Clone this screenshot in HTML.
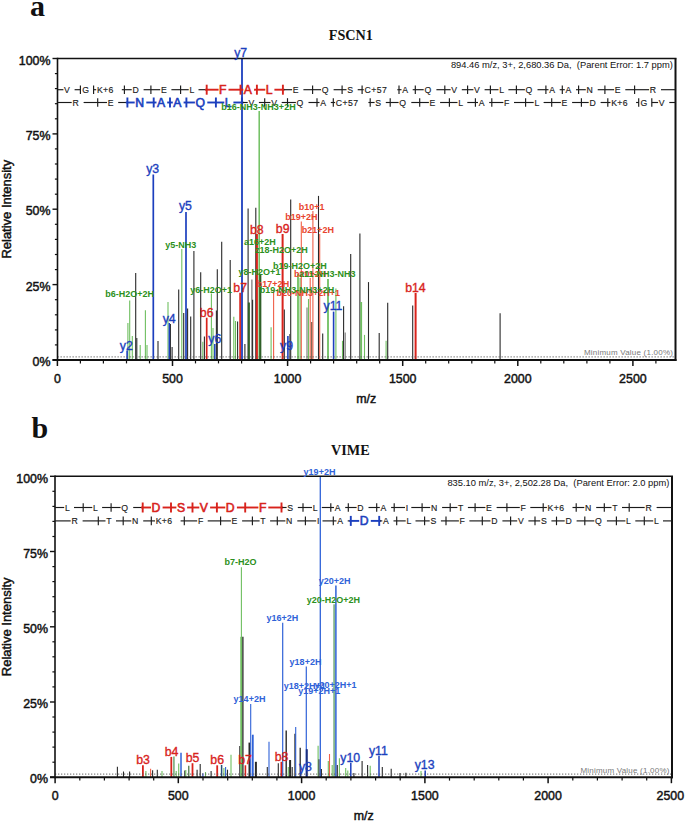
<!DOCTYPE html>
<html><head><meta charset="utf-8"><title>MS/MS spectra</title>
<style>
html,body{margin:0;padding:0;background:#fff}
svg{display:block}
text{font-family:"Liberation Sans",sans-serif}
.ax{font-size:12.4px;fill:#111;stroke:#111;stroke-width:.45px}
.sm{font-size:9px;font-weight:bold}
.ttl{font-family:"Liberation Serif",serif;font-weight:bold;font-size:14.2px}
.ltr{font-family:"Liberation Serif",serif;font-weight:bold;font-size:30px}
.bg{font-size:12.3px;stroke-width:.35px}
</style></head><body>
<svg width="685" height="821" viewBox="0 0 685 821">
<rect width="685" height="821" fill="#fff"/>
<g>
<line x1="127.9" y1="323.0" x2="127.9" y2="360.0" stroke="#6fbf60" stroke-width="1.1"/>
<line x1="129.7" y1="300.6" x2="129.7" y2="360.0" stroke="#6fbf60" stroke-width="1.1"/>
<line x1="132.3" y1="336.0" x2="132.3" y2="360.0" stroke="#6fbf60" stroke-width="1.1"/>
<line x1="135.7" y1="273.1" x2="135.7" y2="360.0" stroke="#2a2a2a" stroke-width="1.1"/>
<line x1="136.8" y1="338.0" x2="136.8" y2="360.0" stroke="#2a2a2a" stroke-width="1.1"/>
<line x1="140.2" y1="345.0" x2="140.2" y2="360.0" stroke="#6fbf60" stroke-width="1.1"/>
<line x1="145.4" y1="310.3" x2="145.4" y2="360.0" stroke="#6fbf60" stroke-width="1.1"/>
<line x1="147.0" y1="345.0" x2="147.0" y2="360.0" stroke="#6fbf60" stroke-width="1.1"/>
<line x1="158.0" y1="341.0" x2="158.0" y2="360.0" stroke="#2a2a2a" stroke-width="1.1"/>
<line x1="168.0" y1="302.0" x2="168.0" y2="360.0" stroke="#6fbf60" stroke-width="1.1"/>
<line x1="170.4" y1="324.0" x2="170.4" y2="360.0" stroke="#2a2a2a" stroke-width="1.1"/>
<line x1="172.1" y1="347.0" x2="172.1" y2="360.0" stroke="#2a2a2a" stroke-width="1.1"/>
<line x1="178.7" y1="289.6" x2="178.7" y2="360.0" stroke="#2a2a2a" stroke-width="1.1"/>
<line x1="181.8" y1="249.0" x2="181.8" y2="360.0" stroke="#6fbf60" stroke-width="1.1"/>
<line x1="183.7" y1="313.0" x2="183.7" y2="360.0" stroke="#2a2a2a" stroke-width="1.1"/>
<line x1="187.6" y1="308.5" x2="187.6" y2="360.0" stroke="#2a2a2a" stroke-width="1.1"/>
<line x1="190.7" y1="316.4" x2="190.7" y2="360.0" stroke="#2a2a2a" stroke-width="1.1"/>
<line x1="193.9" y1="250.9" x2="193.9" y2="360.0" stroke="#2a2a2a" stroke-width="1.1"/>
<line x1="200.7" y1="272.3" x2="200.7" y2="360.0" stroke="#2a2a2a" stroke-width="1.1"/>
<line x1="202.8" y1="341.8" x2="202.8" y2="360.0" stroke="#6fbf60" stroke-width="1.1"/>
<line x1="204.4" y1="336.5" x2="204.4" y2="360.0" stroke="#2a2a2a" stroke-width="1.1"/>
<line x1="211.4" y1="293.6" x2="211.4" y2="360.0" stroke="#6fbf60" stroke-width="1.1"/>
<line x1="213.0" y1="328.0" x2="213.0" y2="360.0" stroke="#6fbf60" stroke-width="1.1"/>
<line x1="216.4" y1="310.6" x2="216.4" y2="360.0" stroke="#2a2a2a" stroke-width="1.1"/>
<line x1="217.3" y1="269.2" x2="217.3" y2="360.0" stroke="#2a2a2a" stroke-width="1.1"/>
<line x1="221.7" y1="241.7" x2="221.7" y2="360.0" stroke="#2a2a2a" stroke-width="1.1"/>
<line x1="230.2" y1="260.0" x2="230.2" y2="360.0" stroke="#2a2a2a" stroke-width="1.1"/>
<line x1="233.8" y1="316.8" x2="233.8" y2="360.0" stroke="#6fbf60" stroke-width="1.1"/>
<line x1="235.5" y1="321.0" x2="235.5" y2="360.0" stroke="#6fbf60" stroke-width="1.1"/>
<line x1="237.6" y1="321.6" x2="237.6" y2="360.0" stroke="#2a2a2a" stroke-width="1.1"/>
<line x1="244.9" y1="344.0" x2="244.9" y2="360.0" stroke="#2a2a2a" stroke-width="1.1"/>
<line x1="248.1" y1="208.4" x2="248.1" y2="360.0" stroke="#2a2a2a" stroke-width="1.1"/>
<line x1="248.9" y1="302.5" x2="248.9" y2="360.0" stroke="#2f5f28" stroke-width="2"/>
<line x1="251.9" y1="279.5" x2="251.9" y2="360.0" stroke="#666" stroke-width="1.1"/>
<line x1="252.6" y1="299.7" x2="252.6" y2="360.0" stroke="#2a2a2a" stroke-width="1.1"/>
<line x1="255.8" y1="207.8" x2="255.8" y2="360.0" stroke="#2a2a2a" stroke-width="1.1"/>
<line x1="259.2" y1="111.0" x2="259.2" y2="360.0" stroke="#6fbf60" stroke-width="1.5"/>
<line x1="260.3" y1="275.0" x2="260.3" y2="360.0" stroke="#2f5f28" stroke-width="2.1"/>
<line x1="271.1" y1="327.3" x2="271.1" y2="360.0" stroke="#6fbf60" stroke-width="1.1"/>
<line x1="273.6" y1="290.0" x2="273.6" y2="360.0" stroke="#f0604a" stroke-width="1.1"/>
<line x1="284.3" y1="309.5" x2="284.3" y2="360.0" stroke="#2a2a2a" stroke-width="1.1"/>
<line x1="289.6" y1="334.0" x2="289.6" y2="360.0" stroke="#777" stroke-width="1.1"/>
<line x1="290.7" y1="199.4" x2="290.7" y2="360.0" stroke="#2a2a2a" stroke-width="1.1"/>
<line x1="298.0" y1="273.8" x2="298.0" y2="360.0" stroke="#6fbf60" stroke-width="1.8"/>
<line x1="300.1" y1="278.0" x2="300.1" y2="360.0" stroke="#6fbf60" stroke-width="1.1"/>
<line x1="301.3" y1="221.4" x2="301.3" y2="360.0" stroke="#f0604a" stroke-width="1.1"/>
<line x1="307.0" y1="307.4" x2="307.0" y2="360.0" stroke="#777" stroke-width="1.1"/>
<line x1="308.5" y1="299.0" x2="308.5" y2="360.0" stroke="#6fbf60" stroke-width="1.1"/>
<line x1="310.2" y1="278.0" x2="310.2" y2="360.0" stroke="#f0604a" stroke-width="1.1"/>
<line x1="311.8" y1="322.0" x2="311.8" y2="360.0" stroke="#5a3a20" stroke-width="1.1"/>
<line x1="312.9" y1="211.0" x2="312.9" y2="360.0" stroke="#f0604a" stroke-width="1.1"/>
<line x1="318.5" y1="195.9" x2="318.5" y2="360.0" stroke="#2a2a2a" stroke-width="1.1"/>
<line x1="319.7" y1="234.0" x2="319.7" y2="360.0" stroke="#f0604a" stroke-width="1.1"/>
<line x1="322.7" y1="333.6" x2="322.7" y2="360.0" stroke="#2a2a2a" stroke-width="1.1"/>
<line x1="328.0" y1="279.1" x2="328.0" y2="360.0" stroke="#6fbf60" stroke-width="1.8"/>
<line x1="335.9" y1="288.5" x2="335.9" y2="360.0" stroke="#6fbf60" stroke-width="1.1"/>
<line x1="342.5" y1="340.8" x2="342.5" y2="360.0" stroke="#6fbf60" stroke-width="1.1"/>
<line x1="343.6" y1="306.2" x2="343.6" y2="360.0" stroke="#2a2a2a" stroke-width="1.1"/>
<line x1="345.2" y1="332.4" x2="345.2" y2="360.0" stroke="#777" stroke-width="1.1"/>
<line x1="350.7" y1="253.9" x2="350.7" y2="360.0" stroke="#2a2a2a" stroke-width="1.1"/>
<line x1="359.9" y1="233.4" x2="359.9" y2="360.0" stroke="#2a2a2a" stroke-width="1.1"/>
<line x1="361.2" y1="302.0" x2="361.2" y2="360.0" stroke="#6fbf60" stroke-width="1.8"/>
<line x1="364.5" y1="334.9" x2="364.5" y2="360.0" stroke="#6fbf60" stroke-width="1.1"/>
<line x1="368.5" y1="282.1" x2="368.5" y2="360.0" stroke="#2a2a2a" stroke-width="1.1"/>
<line x1="379.2" y1="333.0" x2="379.2" y2="360.0" stroke="#2a2a2a" stroke-width="1.1"/>
<line x1="386.1" y1="340.8" x2="386.1" y2="360.0" stroke="#6fbf60" stroke-width="1.1"/>
<line x1="387.7" y1="302.7" x2="387.7" y2="360.0" stroke="#2a2a2a" stroke-width="1.1"/>
<line x1="412.7" y1="305.6" x2="412.7" y2="360.0" stroke="#2a2a2a" stroke-width="1.1"/>
<line x1="500.1" y1="313.3" x2="500.1" y2="360.0" stroke="#2a2a2a" stroke-width="1.1"/>
<line x1="127.1" y1="350.4" x2="127.1" y2="360.0" stroke="#1c3fbe" stroke-width="1.6"/>
<line x1="153.3" y1="174.5" x2="153.3" y2="360.0" stroke="#1c3fbe" stroke-width="1.7"/>
<line x1="169.3" y1="323.0" x2="169.3" y2="360.0" stroke="#1c3fbe" stroke-width="1.5"/>
<line x1="186.0" y1="212.1" x2="186.0" y2="360.0" stroke="#1c3fbe" stroke-width="1.7"/>
<line x1="214.8" y1="343.9" x2="214.8" y2="360.0" stroke="#1c3fbe" stroke-width="1.5"/>
<line x1="287.9" y1="336.0" x2="287.9" y2="360.0" stroke="#1c3fbe" stroke-width="1.6"/>
<line x1="333.6" y1="311.6" x2="333.6" y2="360.0" stroke="#1c3fbe" stroke-width="1.6"/>
<line x1="206.7" y1="317.7" x2="206.7" y2="360.0" stroke="#d8231c" stroke-width="1.7"/>
<line x1="240.1" y1="292.7" x2="240.1" y2="360.0" stroke="#d8231c" stroke-width="1.7"/>
<line x1="256.9" y1="234.0" x2="256.9" y2="360.0" stroke="#d8231c" stroke-width="2"/>
<line x1="282.6" y1="234.0" x2="282.6" y2="360.0" stroke="#d8231c" stroke-width="2"/>
<line x1="415.6" y1="293.0" x2="415.6" y2="360.0" stroke="#d8231c" stroke-width="2"/>
<line x1="242.0" y1="58.5" x2="242.0" y2="360.0" stroke="#1c3fbe" stroke-width="1.8"/>
<line x1="57.5" y1="356.9" x2="675.5" y2="356.9" stroke="#555" stroke-width="0.9" stroke-dasharray="1.3 1.7"/>
<text x="672.9" y="355.3" font-size="8" fill="#7a7a7a" text-anchor="end" textLength="89" lengthAdjust="spacing">Minimum Value (1.00%)</text>
<line x1="57.5" y1="58.5" x2="676.5" y2="58.5" stroke="#111" stroke-width="1.5"/>
<line x1="675.5" y1="58.5" x2="675.5" y2="361" stroke="#111" stroke-width="2"/>
<line x1="57.5" y1="57.8" x2="57.5" y2="361" stroke="#111" stroke-width="1.6"/>
<line x1="52.5" y1="360" x2="676.5" y2="360" stroke="#111" stroke-width="2"/>
<line x1="52.5" y1="360.0" x2="57.5" y2="360.0" stroke="#111" stroke-width="1.4"/>
<text class="ax" x="50.5" y="366.2" text-anchor="end">0%</text>
<line x1="54.9" y1="344.9" x2="57.5" y2="344.9" stroke="#111" stroke-width="1.2"/>
<line x1="54.9" y1="329.9" x2="57.5" y2="329.9" stroke="#111" stroke-width="1.2"/>
<line x1="54.9" y1="314.8" x2="57.5" y2="314.8" stroke="#111" stroke-width="1.2"/>
<line x1="54.9" y1="299.7" x2="57.5" y2="299.7" stroke="#111" stroke-width="1.2"/>
<line x1="52.5" y1="284.6" x2="57.5" y2="284.6" stroke="#111" stroke-width="1.4"/>
<text class="ax" x="50.5" y="290.8" text-anchor="end">25%</text>
<line x1="54.9" y1="269.6" x2="57.5" y2="269.6" stroke="#111" stroke-width="1.2"/>
<line x1="54.9" y1="254.5" x2="57.5" y2="254.5" stroke="#111" stroke-width="1.2"/>
<line x1="54.9" y1="239.4" x2="57.5" y2="239.4" stroke="#111" stroke-width="1.2"/>
<line x1="54.9" y1="224.3" x2="57.5" y2="224.3" stroke="#111" stroke-width="1.2"/>
<line x1="52.5" y1="209.2" x2="57.5" y2="209.2" stroke="#111" stroke-width="1.4"/>
<text class="ax" x="50.5" y="215.4" text-anchor="end">50%</text>
<line x1="54.9" y1="194.2" x2="57.5" y2="194.2" stroke="#111" stroke-width="1.2"/>
<line x1="54.9" y1="179.1" x2="57.5" y2="179.1" stroke="#111" stroke-width="1.2"/>
<line x1="54.9" y1="164.0" x2="57.5" y2="164.0" stroke="#111" stroke-width="1.2"/>
<line x1="54.9" y1="148.9" x2="57.5" y2="148.9" stroke="#111" stroke-width="1.2"/>
<line x1="52.5" y1="133.9" x2="57.5" y2="133.9" stroke="#111" stroke-width="1.4"/>
<text class="ax" x="50.5" y="140.1" text-anchor="end">75%</text>
<line x1="54.9" y1="118.8" x2="57.5" y2="118.8" stroke="#111" stroke-width="1.2"/>
<line x1="54.9" y1="103.7" x2="57.5" y2="103.7" stroke="#111" stroke-width="1.2"/>
<line x1="54.9" y1="88.6" x2="57.5" y2="88.6" stroke="#111" stroke-width="1.2"/>
<line x1="54.9" y1="73.6" x2="57.5" y2="73.6" stroke="#111" stroke-width="1.2"/>
<line x1="52.5" y1="58.5" x2="57.5" y2="58.5" stroke="#111" stroke-width="1.4"/>
<text class="ax" x="50.5" y="64.7" text-anchor="end">100%</text>
<line x1="57.4" y1="360" x2="57.4" y2="366" stroke="#111" stroke-width="1.5"/>
<text class="ax" x="57.4" y="383.2" text-anchor="middle">0</text>
<line x1="80.4" y1="360" x2="80.4" y2="363.4" stroke="#111" stroke-width="1.2"/>
<line x1="103.4" y1="360" x2="103.4" y2="363.4" stroke="#111" stroke-width="1.2"/>
<line x1="126.5" y1="360" x2="126.5" y2="363.4" stroke="#111" stroke-width="1.2"/>
<line x1="149.5" y1="360" x2="149.5" y2="363.4" stroke="#111" stroke-width="1.2"/>
<line x1="172.5" y1="360" x2="172.5" y2="366" stroke="#111" stroke-width="1.5"/>
<text class="ax" x="172.5" y="383.2" text-anchor="middle">500</text>
<line x1="195.5" y1="360" x2="195.5" y2="363.4" stroke="#111" stroke-width="1.2"/>
<line x1="218.5" y1="360" x2="218.5" y2="363.4" stroke="#111" stroke-width="1.2"/>
<line x1="241.6" y1="360" x2="241.6" y2="363.4" stroke="#111" stroke-width="1.2"/>
<line x1="264.6" y1="360" x2="264.6" y2="363.4" stroke="#111" stroke-width="1.2"/>
<line x1="287.6" y1="360" x2="287.6" y2="366" stroke="#111" stroke-width="1.5"/>
<text class="ax" x="287.6" y="383.2" text-anchor="middle">1000</text>
<line x1="310.6" y1="360" x2="310.6" y2="363.4" stroke="#111" stroke-width="1.2"/>
<line x1="333.6" y1="360" x2="333.6" y2="363.4" stroke="#111" stroke-width="1.2"/>
<line x1="356.7" y1="360" x2="356.7" y2="363.4" stroke="#111" stroke-width="1.2"/>
<line x1="379.7" y1="360" x2="379.7" y2="363.4" stroke="#111" stroke-width="1.2"/>
<line x1="402.7" y1="360" x2="402.7" y2="366" stroke="#111" stroke-width="1.5"/>
<text class="ax" x="402.7" y="383.2" text-anchor="middle">1500</text>
<line x1="425.7" y1="360" x2="425.7" y2="363.4" stroke="#111" stroke-width="1.2"/>
<line x1="448.7" y1="360" x2="448.7" y2="363.4" stroke="#111" stroke-width="1.2"/>
<line x1="471.8" y1="360" x2="471.8" y2="363.4" stroke="#111" stroke-width="1.2"/>
<line x1="494.8" y1="360" x2="494.8" y2="363.4" stroke="#111" stroke-width="1.2"/>
<line x1="517.8" y1="360" x2="517.8" y2="366" stroke="#111" stroke-width="1.5"/>
<text class="ax" x="517.8" y="383.2" text-anchor="middle">2000</text>
<line x1="540.8" y1="360" x2="540.8" y2="363.4" stroke="#111" stroke-width="1.2"/>
<line x1="563.8" y1="360" x2="563.8" y2="363.4" stroke="#111" stroke-width="1.2"/>
<line x1="586.9" y1="360" x2="586.9" y2="363.4" stroke="#111" stroke-width="1.2"/>
<line x1="609.9" y1="360" x2="609.9" y2="363.4" stroke="#111" stroke-width="1.2"/>
<line x1="632.9" y1="360" x2="632.9" y2="366" stroke="#111" stroke-width="1.5"/>
<text class="ax" x="632.9" y="383.2" text-anchor="middle">2500</text>
<line x1="655.9" y1="360" x2="655.9" y2="363.4" stroke="#111" stroke-width="1.2"/>
<text class="ax" x="366.2" y="402.8" text-anchor="middle">m/z</text>
<text class="ax" transform="translate(11.3,209.2) rotate(-90)" text-anchor="middle" textLength="98.8" lengthAdjust="spacingAndGlyphs">Relative Intensity</text>
<text x="672.9" y="68.1" font-size="8.6" fill="#111" text-anchor="end" textLength="222" lengthAdjust="spacingAndGlyphs" style="white-space:pre">894.46 m/z, 3+, 2,680.36 Da,  (Parent Error: 1.7 ppm)</text>
<text x="350.8" y="39.7" class="ttl" fill="#111" text-anchor="middle">FSCN1</text>
<text x="30" y="15.6" class="ltr" fill="#111">a</text>
<line x1="57.5" y1="89.7" x2="63.4" y2="89.7" stroke="#1a1a1a" stroke-width="1.15"/>
<line x1="74.6" y1="89.7" x2="80.4" y2="89.7" stroke="#1a1a1a" stroke-width="1.15"/>
<text x="64.1" y="92.8" font-size="8.7" fill="#1a1a1a" stroke="#1a1a1a" stroke-width=".15">V</text>
<text x="82.3" y="92.8" font-size="8.7" fill="#1a1a1a" stroke="#1a1a1a" stroke-width=".15">G</text>
<line x1="93.6" y1="89.7" x2="96.2" y2="89.7" stroke="#1a1a1a" stroke-width="1.15"/>
<line x1="121.8" y1="89.7" x2="124.4" y2="89.7" stroke="#1a1a1a" stroke-width="1.15"/>
<text x="96.9" y="92.8" font-size="8.7" fill="#1a1a1a" stroke="#1a1a1a" stroke-width=".15" textLength="16.4">K+6</text>
<line x1="124.4" y1="89.7" x2="131.7" y2="89.7" stroke="#1a1a1a" stroke-width="1.15"/>
<line x1="143.6" y1="89.7" x2="150.9" y2="89.7" stroke="#1a1a1a" stroke-width="1.15"/>
<text x="132.4" y="92.8" font-size="8.7" fill="#1a1a1a" stroke="#1a1a1a" stroke-width=".15">D</text>
<line x1="150.9" y1="89.7" x2="160.2" y2="89.7" stroke="#1a1a1a" stroke-width="1.15"/>
<line x1="171.4" y1="89.7" x2="180.6" y2="89.7" stroke="#1a1a1a" stroke-width="1.15"/>
<text x="160.9" y="92.8" font-size="8.7" fill="#1a1a1a" stroke="#1a1a1a" stroke-width=".15">E</text>
<line x1="180.6" y1="89.7" x2="188.7" y2="89.7" stroke="#1a1a1a" stroke-width="1.15"/>
<line x1="198.5" y1="89.7" x2="206.7" y2="89.7" stroke="#1a1a1a" stroke-width="1.15"/>
<text x="189.4" y="92.8" font-size="8.7" fill="#1a1a1a" stroke="#1a1a1a" stroke-width=".15">L</text>
<line x1="205.1" y1="89.7" x2="218.6" y2="89.7" stroke="#d8231c" stroke-width="1.9"/>
<line x1="228.5" y1="89.7" x2="240.5" y2="89.7" stroke="#d8231c" stroke-width="1.9"/>
<text x="219.1" y="94.1" font-size="12.2" fill="#d8231c" stroke="#d8231c" stroke-width=".6">F</text>
<line x1="240.5" y1="89.7" x2="243.3" y2="89.7" stroke="#d8231c" stroke-width="1.9"/>
<line x1="254.1" y1="89.7" x2="256.9" y2="89.7" stroke="#d8231c" stroke-width="1.9"/>
<text x="243.8" y="94.1" font-size="12.2" fill="#d8231c" stroke="#d8231c" stroke-width=".6">A</text>
<line x1="256.9" y1="89.7" x2="265.3" y2="89.7" stroke="#d8231c" stroke-width="1.9"/>
<line x1="274.4" y1="89.7" x2="284.5" y2="89.7" stroke="#d8231c" stroke-width="1.9"/>
<text x="265.8" y="94.1" font-size="12.2" fill="#d8231c" stroke="#d8231c" stroke-width=".6">L</text>
<line x1="282.9" y1="89.7" x2="292.1" y2="89.7" stroke="#1a1a1a" stroke-width="1.15"/>
<line x1="303.4" y1="89.7" x2="312.6" y2="89.7" stroke="#1a1a1a" stroke-width="1.15"/>
<text x="292.8" y="92.8" font-size="8.7" fill="#1a1a1a" stroke="#1a1a1a" stroke-width=".15">E</text>
<line x1="312.6" y1="89.7" x2="321.0" y2="89.7" stroke="#1a1a1a" stroke-width="1.15"/>
<line x1="333.6" y1="89.7" x2="342.1" y2="89.7" stroke="#1a1a1a" stroke-width="1.15"/>
<text x="321.7" y="92.8" font-size="8.7" fill="#1a1a1a" stroke="#1a1a1a" stroke-width=".15">Q</text>
<line x1="342.1" y1="89.7" x2="346.5" y2="89.7" stroke="#1a1a1a" stroke-width="1.15"/>
<line x1="357.7" y1="89.7" x2="362.1" y2="89.7" stroke="#1a1a1a" stroke-width="1.15"/>
<text x="347.2" y="92.8" font-size="8.7" fill="#1a1a1a" stroke="#1a1a1a" stroke-width=".15">S</text>
<line x1="362.1" y1="89.7" x2="363.9" y2="89.7" stroke="#1a1a1a" stroke-width="1.15"/>
<line x1="397.2" y1="89.7" x2="399.0" y2="89.7" stroke="#1a1a1a" stroke-width="1.15"/>
<text x="364.6" y="92.8" font-size="8.7" fill="#1a1a1a" stroke="#1a1a1a" stroke-width=".15" textLength="22.3">C+57</text>
<line x1="399.0" y1="89.7" x2="401.5" y2="89.7" stroke="#1a1a1a" stroke-width="1.15"/>
<line x1="412.7" y1="89.7" x2="415.3" y2="89.7" stroke="#1a1a1a" stroke-width="1.15"/>
<text x="402.2" y="92.8" font-size="8.7" fill="#1a1a1a" stroke="#1a1a1a" stroke-width=".15">A</text>
<line x1="415.3" y1="89.7" x2="423.7" y2="89.7" stroke="#1a1a1a" stroke-width="1.15"/>
<line x1="436.4" y1="89.7" x2="444.8" y2="89.7" stroke="#1a1a1a" stroke-width="1.15"/>
<text x="424.4" y="92.8" font-size="8.7" fill="#1a1a1a" stroke="#1a1a1a" stroke-width=".15">Q</text>
<line x1="444.8" y1="89.7" x2="450.6" y2="89.7" stroke="#1a1a1a" stroke-width="1.15"/>
<line x1="461.8" y1="89.7" x2="467.6" y2="89.7" stroke="#1a1a1a" stroke-width="1.15"/>
<text x="451.3" y="92.8" font-size="8.7" fill="#1a1a1a" stroke="#1a1a1a" stroke-width=".15">V</text>
<line x1="467.6" y1="89.7" x2="473.4" y2="89.7" stroke="#1a1a1a" stroke-width="1.15"/>
<line x1="484.6" y1="89.7" x2="490.4" y2="89.7" stroke="#1a1a1a" stroke-width="1.15"/>
<text x="474.1" y="92.8" font-size="8.7" fill="#1a1a1a" stroke="#1a1a1a" stroke-width=".15">V</text>
<line x1="490.4" y1="89.7" x2="498.5" y2="89.7" stroke="#1a1a1a" stroke-width="1.15"/>
<line x1="508.3" y1="89.7" x2="516.4" y2="89.7" stroke="#1a1a1a" stroke-width="1.15"/>
<text x="499.2" y="92.8" font-size="8.7" fill="#1a1a1a" stroke="#1a1a1a" stroke-width=".15">L</text>
<line x1="516.4" y1="89.7" x2="524.9" y2="89.7" stroke="#1a1a1a" stroke-width="1.15"/>
<line x1="537.5" y1="89.7" x2="545.9" y2="89.7" stroke="#1a1a1a" stroke-width="1.15"/>
<text x="525.6" y="92.8" font-size="8.7" fill="#1a1a1a" stroke="#1a1a1a" stroke-width=".15">Q</text>
<line x1="545.9" y1="89.7" x2="548.5" y2="89.7" stroke="#1a1a1a" stroke-width="1.15"/>
<line x1="559.7" y1="89.7" x2="562.3" y2="89.7" stroke="#1a1a1a" stroke-width="1.15"/>
<text x="549.2" y="92.8" font-size="8.7" fill="#1a1a1a" stroke="#1a1a1a" stroke-width=".15">A</text>
<line x1="562.3" y1="89.7" x2="564.8" y2="89.7" stroke="#1a1a1a" stroke-width="1.15"/>
<line x1="576.0" y1="89.7" x2="578.6" y2="89.7" stroke="#1a1a1a" stroke-width="1.15"/>
<text x="565.5" y="92.8" font-size="8.7" fill="#1a1a1a" stroke="#1a1a1a" stroke-width=".15">A</text>
<line x1="578.6" y1="89.7" x2="585.8" y2="89.7" stroke="#1a1a1a" stroke-width="1.15"/>
<line x1="597.7" y1="89.7" x2="604.9" y2="89.7" stroke="#1a1a1a" stroke-width="1.15"/>
<text x="586.5" y="92.8" font-size="8.7" fill="#1a1a1a" stroke="#1a1a1a" stroke-width=".15">N</text>
<line x1="604.9" y1="89.7" x2="614.1" y2="89.7" stroke="#1a1a1a" stroke-width="1.15"/>
<line x1="625.3" y1="89.7" x2="634.6" y2="89.7" stroke="#1a1a1a" stroke-width="1.15"/>
<text x="614.8" y="92.8" font-size="8.7" fill="#1a1a1a" stroke="#1a1a1a" stroke-width=".15">E</text>
<line x1="634.6" y1="89.7" x2="649.1" y2="89.7" stroke="#1a1a1a" stroke-width="1.15"/>
<line x1="661.0" y1="89.7" x2="675.5" y2="89.7" stroke="#1a1a1a" stroke-width="1.15"/>
<text x="649.8" y="92.8" font-size="8.7" fill="#1a1a1a" stroke="#1a1a1a" stroke-width=".15">R</text>
<line x1="80.4" y1="85.4" x2="80.4" y2="94.0" stroke="#1a1a1a" stroke-width="1.15"/>
<line x1="93.6" y1="85.4" x2="93.6" y2="94.0" stroke="#1a1a1a" stroke-width="1.15"/>
<line x1="124.4" y1="85.4" x2="124.4" y2="94.0" stroke="#1a1a1a" stroke-width="1.15"/>
<line x1="150.9" y1="85.4" x2="150.9" y2="94.0" stroke="#1a1a1a" stroke-width="1.15"/>
<line x1="180.6" y1="85.4" x2="180.6" y2="94.0" stroke="#1a1a1a" stroke-width="1.15"/>
<line x1="206.7" y1="84.7" x2="206.7" y2="94.7" stroke="#d8231c" stroke-width="1.9"/>
<line x1="240.5" y1="84.7" x2="240.5" y2="94.7" stroke="#d8231c" stroke-width="1.9"/>
<line x1="256.9" y1="84.7" x2="256.9" y2="94.7" stroke="#d8231c" stroke-width="1.9"/>
<line x1="282.9" y1="84.7" x2="282.9" y2="94.7" stroke="#d8231c" stroke-width="1.9"/>
<line x1="312.6" y1="85.4" x2="312.6" y2="94.0" stroke="#1a1a1a" stroke-width="1.15"/>
<line x1="342.1" y1="85.4" x2="342.1" y2="94.0" stroke="#1a1a1a" stroke-width="1.15"/>
<line x1="362.1" y1="85.4" x2="362.1" y2="94.0" stroke="#1a1a1a" stroke-width="1.15"/>
<line x1="399.0" y1="85.4" x2="399.0" y2="94.0" stroke="#1a1a1a" stroke-width="1.15"/>
<line x1="415.3" y1="85.4" x2="415.3" y2="94.0" stroke="#1a1a1a" stroke-width="1.15"/>
<line x1="444.8" y1="85.4" x2="444.8" y2="94.0" stroke="#1a1a1a" stroke-width="1.15"/>
<line x1="467.6" y1="85.4" x2="467.6" y2="94.0" stroke="#1a1a1a" stroke-width="1.15"/>
<line x1="490.4" y1="85.4" x2="490.4" y2="94.0" stroke="#1a1a1a" stroke-width="1.15"/>
<line x1="516.4" y1="85.4" x2="516.4" y2="94.0" stroke="#1a1a1a" stroke-width="1.15"/>
<line x1="545.9" y1="85.4" x2="545.9" y2="94.0" stroke="#1a1a1a" stroke-width="1.15"/>
<line x1="562.3" y1="85.4" x2="562.3" y2="94.0" stroke="#1a1a1a" stroke-width="1.15"/>
<line x1="578.6" y1="85.4" x2="578.6" y2="94.0" stroke="#1a1a1a" stroke-width="1.15"/>
<line x1="604.9" y1="85.4" x2="604.9" y2="94.0" stroke="#1a1a1a" stroke-width="1.15"/>
<line x1="634.6" y1="85.4" x2="634.6" y2="94.0" stroke="#1a1a1a" stroke-width="1.15"/>
<line x1="57.5" y1="102.5" x2="71.7" y2="102.5" stroke="#1a1a1a" stroke-width="1.15"/>
<line x1="83.6" y1="102.5" x2="97.7" y2="102.5" stroke="#1a1a1a" stroke-width="1.15"/>
<text x="72.4" y="105.6" font-size="8.7" fill="#1a1a1a" stroke="#1a1a1a" stroke-width=".15">R</text>
<line x1="97.7" y1="102.5" x2="107.0" y2="102.5" stroke="#1a1a1a" stroke-width="1.15"/>
<line x1="118.2" y1="102.5" x2="127.4" y2="102.5" stroke="#1a1a1a" stroke-width="1.15"/>
<text x="107.7" y="105.6" font-size="8.7" fill="#1a1a1a" stroke="#1a1a1a" stroke-width=".15">E</text>
<line x1="125.8" y1="102.5" x2="134.7" y2="102.5" stroke="#1c3fbe" stroke-width="1.9"/>
<line x1="146.3" y1="102.5" x2="153.7" y2="102.5" stroke="#1c3fbe" stroke-width="1.9"/>
<text x="135.2" y="106.9" font-size="12.2" fill="#1c3fbe" stroke="#1c3fbe" stroke-width=".6">N</text>
<line x1="153.7" y1="102.5" x2="156.5" y2="102.5" stroke="#1c3fbe" stroke-width="1.9"/>
<line x1="167.2" y1="102.5" x2="170.0" y2="102.5" stroke="#1c3fbe" stroke-width="1.9"/>
<text x="157.0" y="106.9" font-size="12.2" fill="#1c3fbe" stroke="#1c3fbe" stroke-width=".6">A</text>
<line x1="170.0" y1="102.5" x2="172.8" y2="102.5" stroke="#1c3fbe" stroke-width="1.9"/>
<line x1="183.6" y1="102.5" x2="186.4" y2="102.5" stroke="#1c3fbe" stroke-width="1.9"/>
<text x="173.3" y="106.9" font-size="12.2" fill="#1c3fbe" stroke="#1c3fbe" stroke-width=".6">A</text>
<line x1="186.4" y1="102.5" x2="194.9" y2="102.5" stroke="#1c3fbe" stroke-width="1.9"/>
<line x1="207.3" y1="102.5" x2="215.9" y2="102.5" stroke="#1c3fbe" stroke-width="1.9"/>
<text x="195.4" y="106.9" font-size="12.2" fill="#1c3fbe" stroke="#1c3fbe" stroke-width=".6">Q</text>
<line x1="215.9" y1="102.5" x2="224.3" y2="102.5" stroke="#1c3fbe" stroke-width="1.9"/>
<line x1="233.4" y1="102.5" x2="243.5" y2="102.5" stroke="#1c3fbe" stroke-width="1.9"/>
<text x="224.8" y="106.9" font-size="12.2" fill="#1c3fbe" stroke="#1c3fbe" stroke-width=".6">L</text>
<line x1="241.9" y1="102.5" x2="247.7" y2="102.5" stroke="#1a1a1a" stroke-width="1.15"/>
<line x1="258.9" y1="102.5" x2="264.7" y2="102.5" stroke="#1a1a1a" stroke-width="1.15"/>
<text x="248.4" y="105.6" font-size="8.7" fill="#1a1a1a" stroke="#1a1a1a" stroke-width=".15">V</text>
<line x1="264.7" y1="102.5" x2="270.5" y2="102.5" stroke="#1a1a1a" stroke-width="1.15"/>
<line x1="281.7" y1="102.5" x2="287.5" y2="102.5" stroke="#1a1a1a" stroke-width="1.15"/>
<text x="271.2" y="105.6" font-size="8.7" fill="#1a1a1a" stroke="#1a1a1a" stroke-width=".15">V</text>
<line x1="287.5" y1="102.5" x2="295.9" y2="102.5" stroke="#1a1a1a" stroke-width="1.15"/>
<line x1="308.5" y1="102.5" x2="317.0" y2="102.5" stroke="#1a1a1a" stroke-width="1.15"/>
<text x="296.6" y="105.6" font-size="8.7" fill="#1a1a1a" stroke="#1a1a1a" stroke-width=".15">Q</text>
<line x1="317.0" y1="102.5" x2="319.5" y2="102.5" stroke="#1a1a1a" stroke-width="1.15"/>
<line x1="330.8" y1="102.5" x2="333.3" y2="102.5" stroke="#1a1a1a" stroke-width="1.15"/>
<text x="320.2" y="105.6" font-size="8.7" fill="#1a1a1a" stroke="#1a1a1a" stroke-width=".15">A</text>
<line x1="333.3" y1="102.5" x2="335.1" y2="102.5" stroke="#1a1a1a" stroke-width="1.15"/>
<line x1="368.4" y1="102.5" x2="370.2" y2="102.5" stroke="#1a1a1a" stroke-width="1.15"/>
<text x="335.8" y="105.6" font-size="8.7" fill="#1a1a1a" stroke="#1a1a1a" stroke-width=".15" textLength="22.3">C+57</text>
<line x1="370.2" y1="102.5" x2="374.6" y2="102.5" stroke="#1a1a1a" stroke-width="1.15"/>
<line x1="385.8" y1="102.5" x2="390.2" y2="102.5" stroke="#1a1a1a" stroke-width="1.15"/>
<text x="375.3" y="105.6" font-size="8.7" fill="#1a1a1a" stroke="#1a1a1a" stroke-width=".15">S</text>
<line x1="390.2" y1="102.5" x2="398.6" y2="102.5" stroke="#1a1a1a" stroke-width="1.15"/>
<line x1="411.3" y1="102.5" x2="419.7" y2="102.5" stroke="#1a1a1a" stroke-width="1.15"/>
<text x="399.3" y="105.6" font-size="8.7" fill="#1a1a1a" stroke="#1a1a1a" stroke-width=".15">Q</text>
<line x1="419.7" y1="102.5" x2="428.9" y2="102.5" stroke="#1a1a1a" stroke-width="1.15"/>
<line x1="440.1" y1="102.5" x2="449.4" y2="102.5" stroke="#1a1a1a" stroke-width="1.15"/>
<text x="429.6" y="105.6" font-size="8.7" fill="#1a1a1a" stroke="#1a1a1a" stroke-width=".15">E</text>
<line x1="449.4" y1="102.5" x2="457.5" y2="102.5" stroke="#1a1a1a" stroke-width="1.15"/>
<line x1="467.3" y1="102.5" x2="475.4" y2="102.5" stroke="#1a1a1a" stroke-width="1.15"/>
<text x="458.2" y="105.6" font-size="8.7" fill="#1a1a1a" stroke="#1a1a1a" stroke-width=".15">L</text>
<line x1="475.4" y1="102.5" x2="478.0" y2="102.5" stroke="#1a1a1a" stroke-width="1.15"/>
<line x1="489.2" y1="102.5" x2="491.8" y2="102.5" stroke="#1a1a1a" stroke-width="1.15"/>
<text x="478.7" y="105.6" font-size="8.7" fill="#1a1a1a" stroke="#1a1a1a" stroke-width=".15">A</text>
<line x1="491.8" y1="102.5" x2="503.4" y2="102.5" stroke="#1a1a1a" stroke-width="1.15"/>
<line x1="514.0" y1="102.5" x2="525.6" y2="102.5" stroke="#1a1a1a" stroke-width="1.15"/>
<text x="504.1" y="105.6" font-size="8.7" fill="#1a1a1a" stroke="#1a1a1a" stroke-width=".15">F</text>
<line x1="525.6" y1="102.5" x2="533.7" y2="102.5" stroke="#1a1a1a" stroke-width="1.15"/>
<line x1="543.6" y1="102.5" x2="551.7" y2="102.5" stroke="#1a1a1a" stroke-width="1.15"/>
<text x="534.4" y="105.6" font-size="8.7" fill="#1a1a1a" stroke="#1a1a1a" stroke-width=".15">L</text>
<line x1="551.7" y1="102.5" x2="560.9" y2="102.5" stroke="#1a1a1a" stroke-width="1.15"/>
<line x1="572.1" y1="102.5" x2="581.4" y2="102.5" stroke="#1a1a1a" stroke-width="1.15"/>
<text x="561.6" y="105.6" font-size="8.7" fill="#1a1a1a" stroke="#1a1a1a" stroke-width=".15">E</text>
<line x1="581.4" y1="102.5" x2="588.7" y2="102.5" stroke="#1a1a1a" stroke-width="1.15"/>
<line x1="600.6" y1="102.5" x2="607.8" y2="102.5" stroke="#1a1a1a" stroke-width="1.15"/>
<text x="589.4" y="105.6" font-size="8.7" fill="#1a1a1a" stroke="#1a1a1a" stroke-width=".15">D</text>
<line x1="607.8" y1="102.5" x2="610.5" y2="102.5" stroke="#1a1a1a" stroke-width="1.15"/>
<line x1="636.1" y1="102.5" x2="638.7" y2="102.5" stroke="#1a1a1a" stroke-width="1.15"/>
<text x="611.2" y="105.6" font-size="8.7" fill="#1a1a1a" stroke="#1a1a1a" stroke-width=".15" textLength="16.4">K+6</text>
<text x="640.6" y="105.6" font-size="8.7" fill="#1a1a1a" stroke="#1a1a1a" stroke-width=".15">G</text>
<line x1="651.8" y1="102.5" x2="658.1" y2="102.5" stroke="#1a1a1a" stroke-width="1.15"/>
<line x1="669.3" y1="102.5" x2="675.5" y2="102.5" stroke="#1a1a1a" stroke-width="1.15"/>
<text x="658.8" y="105.6" font-size="8.7" fill="#1a1a1a" stroke="#1a1a1a" stroke-width=".15">V</text>
<line x1="97.7" y1="98.2" x2="97.7" y2="106.8" stroke="#1a1a1a" stroke-width="1.15"/>
<line x1="127.4" y1="97.5" x2="127.4" y2="107.5" stroke="#1c3fbe" stroke-width="1.9"/>
<line x1="153.7" y1="97.5" x2="153.7" y2="107.5" stroke="#1c3fbe" stroke-width="1.9"/>
<line x1="170.0" y1="97.5" x2="170.0" y2="107.5" stroke="#1c3fbe" stroke-width="1.9"/>
<line x1="186.4" y1="97.5" x2="186.4" y2="107.5" stroke="#1c3fbe" stroke-width="1.9"/>
<line x1="215.9" y1="97.5" x2="215.9" y2="107.5" stroke="#1c3fbe" stroke-width="1.9"/>
<line x1="241.9" y1="97.5" x2="241.9" y2="107.5" stroke="#1c3fbe" stroke-width="1.9"/>
<line x1="264.7" y1="98.2" x2="264.7" y2="106.8" stroke="#1a1a1a" stroke-width="1.15"/>
<line x1="287.5" y1="98.2" x2="287.5" y2="106.8" stroke="#1a1a1a" stroke-width="1.15"/>
<line x1="317.0" y1="98.2" x2="317.0" y2="106.8" stroke="#1a1a1a" stroke-width="1.15"/>
<line x1="333.3" y1="98.2" x2="333.3" y2="106.8" stroke="#1a1a1a" stroke-width="1.15"/>
<line x1="370.2" y1="98.2" x2="370.2" y2="106.8" stroke="#1a1a1a" stroke-width="1.15"/>
<line x1="390.2" y1="98.2" x2="390.2" y2="106.8" stroke="#1a1a1a" stroke-width="1.15"/>
<line x1="419.7" y1="98.2" x2="419.7" y2="106.8" stroke="#1a1a1a" stroke-width="1.15"/>
<line x1="449.4" y1="98.2" x2="449.4" y2="106.8" stroke="#1a1a1a" stroke-width="1.15"/>
<line x1="475.4" y1="98.2" x2="475.4" y2="106.8" stroke="#1a1a1a" stroke-width="1.15"/>
<line x1="491.8" y1="98.2" x2="491.8" y2="106.8" stroke="#1a1a1a" stroke-width="1.15"/>
<line x1="525.6" y1="98.2" x2="525.6" y2="106.8" stroke="#1a1a1a" stroke-width="1.15"/>
<line x1="551.7" y1="98.2" x2="551.7" y2="106.8" stroke="#1a1a1a" stroke-width="1.15"/>
<line x1="581.4" y1="98.2" x2="581.4" y2="106.8" stroke="#1a1a1a" stroke-width="1.15"/>
<line x1="607.8" y1="98.2" x2="607.8" y2="106.8" stroke="#1a1a1a" stroke-width="1.15"/>
<line x1="638.7" y1="98.2" x2="638.7" y2="106.8" stroke="#1a1a1a" stroke-width="1.15"/>
<line x1="651.8" y1="98.2" x2="651.8" y2="106.8" stroke="#1a1a1a" stroke-width="1.15"/>
<text class="sm" x="258.5" y="109.8" fill="#2c9020" text-anchor="middle">b16-NH3-NH3+2H</text>
<text class="sm" x="180.8" y="247.5" fill="#2c9020" text-anchor="middle">y5-NH3</text>
<text class="sm" x="129.6" y="297.2" fill="#2c9020" text-anchor="middle">b6-H2O+2H</text>
<text class="sm" x="211.2" y="292.8" fill="#2c9020" text-anchor="middle">y6-H2O+1</text>
<text class="sm" x="259.9" y="245.2" fill="#2c9020" text-anchor="middle">a16+2H</text>
<text class="sm" x="281.4" y="253.4" fill="#2c9020" text-anchor="middle">z18-H2O+2H</text>
<text class="sm" x="259.5" y="274.5" fill="#2c9020" text-anchor="middle">y8-H2O+1</text>
<text class="sm" x="299.9" y="268.9" fill="#2c9020" text-anchor="middle">b19-H2O+2H</text>
<text class="sm" x="273.0" y="286.5" fill="#e8442e" text-anchor="middle">b17+2H</text>
<text class="sm" x="310.2" y="276.6" fill="#e8442e" text-anchor="middle">b20+2H</text>
<text class="sm" x="327.2" y="276.7" fill="#2c9020" text-anchor="middle">a11-NH3-NH3</text>
<text class="sm" x="308.2" y="295.7" fill="#e8442e" text-anchor="middle">b20-NH3+2H+1</text>
<text class="sm" x="297.0" y="292.7" fill="#2c9020" text-anchor="middle">b19-NH3-NH3+2H</text>
<text class="sm" x="311.7" y="210.0" fill="#e8442e" text-anchor="middle">b10+1</text>
<text class="sm" x="301.3" y="220.0" fill="#e8442e" text-anchor="middle">b19+2H</text>
<text class="sm" x="317.8" y="233.0" fill="#e8442e" text-anchor="middle">b21+2H</text>
<text class="bg" x="126.3" y="349.6" fill="#1c3fbe" stroke="#1c3fbe" text-anchor="middle">y2</text>
<text class="bg" x="152.7" y="172.7" fill="#1c3fbe" stroke="#1c3fbe" text-anchor="middle">y3</text>
<text class="bg" x="169.2" y="323.0" fill="#1c3fbe" stroke="#1c3fbe" text-anchor="middle">y4</text>
<text class="bg" x="185.4" y="209.5" fill="#1c3fbe" stroke="#1c3fbe" text-anchor="middle">y5</text>
<text class="bg" x="214.8" y="342.6" fill="#1c3fbe" stroke="#1c3fbe" text-anchor="middle">y6</text>
<text class="bg" x="240.7" y="56.6" fill="#1c3fbe" stroke="#1c3fbe" text-anchor="middle">y7</text>
<text class="bg" x="286.5" y="350.2" fill="#1c3fbe" stroke="#1c3fbe" text-anchor="middle">y9</text>
<text class="bg" x="333.0" y="310.2" fill="#1c3fbe" stroke="#1c3fbe" text-anchor="middle">y11</text>
<text class="bg" x="206.7" y="316.5" fill="#d8231c" stroke="#d8231c" text-anchor="middle">b6</text>
<text class="bg" x="240.2" y="291.5" fill="#d8231c" stroke="#d8231c" text-anchor="middle">b7</text>
<text class="bg" x="256.8" y="234.0" fill="#d8231c" stroke="#d8231c" text-anchor="middle">b8</text>
<text class="bg" x="282.7" y="233.0" fill="#d8231c" stroke="#d8231c" text-anchor="middle">b9</text>
<text class="bg" x="415.4" y="291.6" fill="#d8231c" stroke="#d8231c" text-anchor="middle">b14</text>
</g>
<g>
<line x1="117.4" y1="766.7" x2="117.4" y2="777.2" stroke="#2a2a2a" stroke-width="1.1"/>
<line x1="123.5" y1="771.5" x2="123.5" y2="777.2" stroke="#2a2a2a" stroke-width="1.1"/>
<line x1="129.6" y1="771.5" x2="129.6" y2="777.2" stroke="#2a2a2a" stroke-width="1.1"/>
<line x1="145.9" y1="771.1" x2="145.9" y2="777.2" stroke="#6fbf60" stroke-width="1.1"/>
<line x1="150.6" y1="768.8" x2="150.6" y2="777.2" stroke="#f0604a" stroke-width="1.1"/>
<line x1="152.6" y1="770.2" x2="152.6" y2="777.2" stroke="#2a2a2a" stroke-width="1.1"/>
<line x1="157.3" y1="769.7" x2="157.3" y2="777.2" stroke="#2a2a2a" stroke-width="1.1"/>
<line x1="162.0" y1="771.1" x2="162.0" y2="777.2" stroke="#6fbf60" stroke-width="1.1"/>
<line x1="173.9" y1="756.6" x2="173.9" y2="777.2" stroke="#86b58c" stroke-width="1.8"/>
<line x1="176.2" y1="770.9" x2="176.2" y2="777.2" stroke="#6fbf60" stroke-width="1.1"/>
<line x1="178.7" y1="763.6" x2="178.7" y2="777.2" stroke="#6fbf60" stroke-width="1.1"/>
<line x1="181.0" y1="752.7" x2="181.0" y2="777.2" stroke="#2f62d8" stroke-width="1.5"/>
<line x1="184.8" y1="770.6" x2="184.8" y2="777.2" stroke="#2a2a2a" stroke-width="1.1"/>
<line x1="185.8" y1="770.0" x2="185.8" y2="777.2" stroke="#6fbf60" stroke-width="1.1"/>
<line x1="188.8" y1="765.7" x2="188.8" y2="777.2" stroke="#2f5f28" stroke-width="1.1"/>
<line x1="197.1" y1="769.7" x2="197.1" y2="777.2" stroke="#2a2a2a" stroke-width="1.1"/>
<line x1="200.2" y1="763.9" x2="200.2" y2="777.2" stroke="#2a2a2a" stroke-width="1.1"/>
<line x1="202.9" y1="773.2" x2="202.9" y2="777.2" stroke="#1c3fbe" stroke-width="1.1"/>
<line x1="205.5" y1="772.0" x2="205.5" y2="777.2" stroke="#6fbf60" stroke-width="1.1"/>
<line x1="211.1" y1="770.9" x2="211.1" y2="777.2" stroke="#2a2a2a" stroke-width="1.1"/>
<line x1="221.6" y1="765.0" x2="221.6" y2="777.2" stroke="#23507a" stroke-width="1.5"/>
<line x1="223.9" y1="768.0" x2="223.9" y2="777.2" stroke="#6fbf60" stroke-width="1.1"/>
<line x1="225.6" y1="767.0" x2="225.6" y2="777.2" stroke="#2f62d8" stroke-width="1.1"/>
<line x1="227.5" y1="769.7" x2="227.5" y2="777.2" stroke="#2a2a2a" stroke-width="1.1"/>
<line x1="231.0" y1="754.8" x2="231.0" y2="777.2" stroke="#6fbf60" stroke-width="1.1"/>
<line x1="239.8" y1="746.0" x2="239.8" y2="777.2" stroke="#2a2a2a" stroke-width="1.1"/>
<line x1="241.4" y1="567.3" x2="241.4" y2="777.2" stroke="#6fbf60" stroke-width="1.1"/>
<line x1="241.3" y1="636.8" x2="241.3" y2="777.2" stroke="#6fbf60" stroke-width="2"/>
<line x1="242.9" y1="636.8" x2="242.9" y2="777.2" stroke="#2a2a2a" stroke-width="1.3"/>
<line x1="249.4" y1="742.6" x2="249.4" y2="777.2" stroke="#2a2a2a" stroke-width="1.8"/>
<line x1="250.7" y1="704.0" x2="250.7" y2="777.2" stroke="#2f62d8" stroke-width="1.1"/>
<line x1="252.8" y1="734.7" x2="252.8" y2="777.2" stroke="#2f62d8" stroke-width="1.8"/>
<line x1="255.9" y1="761.8" x2="255.9" y2="777.2" stroke="#2a2a2a" stroke-width="2"/>
<line x1="267.3" y1="767.0" x2="267.3" y2="777.2" stroke="#2a2a2a" stroke-width="1.1"/>
<line x1="269.0" y1="741.7" x2="269.0" y2="777.2" stroke="#2f62d8" stroke-width="1.1"/>
<line x1="278.3" y1="763.2" x2="278.3" y2="777.2" stroke="#2a2a2a" stroke-width="1.1"/>
<line x1="282.7" y1="622.8" x2="282.7" y2="777.2" stroke="#2f62d8" stroke-width="1.2"/>
<line x1="286.2" y1="730.6" x2="286.2" y2="777.2" stroke="#2a2a2a" stroke-width="1.4"/>
<line x1="288.3" y1="767.0" x2="288.3" y2="777.2" stroke="#6fbf60" stroke-width="1.1"/>
<line x1="290.1" y1="760.0" x2="290.1" y2="777.2" stroke="#2a2a2a" stroke-width="2"/>
<line x1="292.2" y1="767.0" x2="292.2" y2="777.2" stroke="#2a2a2a" stroke-width="1.1"/>
<line x1="295.0" y1="733.8" x2="295.0" y2="777.2" stroke="#2a2a2a" stroke-width="1.3"/>
<line x1="295.7" y1="727.0" x2="295.7" y2="777.2" stroke="#2f62d8" stroke-width="1.1"/>
<line x1="300.2" y1="747.8" x2="300.2" y2="777.2" stroke="#2a2a2a" stroke-width="1.3"/>
<line x1="300.9" y1="771.0" x2="300.9" y2="777.2" stroke="#1c3fbe" stroke-width="1.1"/>
<line x1="306.3" y1="666.6" x2="306.3" y2="777.2" stroke="#2f62d8" stroke-width="1.2"/>
<line x1="306.8" y1="749.2" x2="306.8" y2="777.2" stroke="#1b2f80" stroke-width="2"/>
<line x1="318.1" y1="745.7" x2="318.1" y2="777.2" stroke="#6fbf60" stroke-width="1.1"/>
<line x1="319.0" y1="759.2" x2="319.0" y2="777.2" stroke="#2a2a2a" stroke-width="1.1"/>
<line x1="320.3" y1="476.3" x2="320.3" y2="777.2" stroke="#2f62d8" stroke-width="1.3"/>
<line x1="321.4" y1="769.0" x2="321.4" y2="777.2" stroke="#2a2a2a" stroke-width="1.1"/>
<line x1="328.3" y1="761.0" x2="328.3" y2="777.2" stroke="#6fbf60" stroke-width="1.1"/>
<line x1="329.5" y1="754.0" x2="329.5" y2="777.2" stroke="#f0604a" stroke-width="1.1"/>
<line x1="332.2" y1="765.0" x2="332.2" y2="777.2" stroke="#6fbf60" stroke-width="1.1"/>
<line x1="334.2" y1="604.3" x2="334.2" y2="777.2" stroke="#86b58c" stroke-width="2"/>
<line x1="335.9" y1="585.6" x2="335.9" y2="777.2" stroke="#2f62d8" stroke-width="1.5"/>
<line x1="337.3" y1="765.0" x2="337.3" y2="777.2" stroke="#2a2a2a" stroke-width="1.1"/>
<line x1="339.4" y1="758.3" x2="339.4" y2="777.2" stroke="#6fbf60" stroke-width="1.1"/>
<line x1="345.7" y1="768.0" x2="345.7" y2="777.2" stroke="#6fbf60" stroke-width="1.1"/>
<line x1="347.8" y1="770.6" x2="347.8" y2="777.2" stroke="#6fbf60" stroke-width="1.1"/>
<line x1="353.9" y1="773.0" x2="353.9" y2="777.2" stroke="#2a2a2a" stroke-width="1.1"/>
<line x1="362.1" y1="761.0" x2="362.1" y2="777.2" stroke="#2a2a2a" stroke-width="1.1"/>
<line x1="367.6" y1="765.0" x2="367.6" y2="777.2" stroke="#2a2a2a" stroke-width="1.1"/>
<line x1="370.2" y1="765.7" x2="370.2" y2="777.2" stroke="#6fbf60" stroke-width="1.1"/>
<line x1="382.3" y1="767.1" x2="382.3" y2="777.2" stroke="#2a2a2a" stroke-width="1.1"/>
<line x1="391.2" y1="768.8" x2="391.2" y2="777.2" stroke="#2a2a2a" stroke-width="1.1"/>
<line x1="400.0" y1="773.0" x2="400.0" y2="777.2" stroke="#2a2a2a" stroke-width="1.1"/>
<line x1="405.9" y1="772.7" x2="405.9" y2="777.2" stroke="#2a2a2a" stroke-width="1.1"/>
<line x1="421.0" y1="771.0" x2="421.0" y2="777.2" stroke="#6fbf60" stroke-width="1.1"/>
<line x1="142.9" y1="765.3" x2="142.9" y2="777.2" stroke="#d8231c" stroke-width="1.8"/>
<line x1="171.3" y1="756.9" x2="171.3" y2="777.2" stroke="#d8231c" stroke-width="1.8"/>
<line x1="192.5" y1="763.2" x2="192.5" y2="777.2" stroke="#d8231c" stroke-width="1.8"/>
<line x1="217.2" y1="765.3" x2="217.2" y2="777.2" stroke="#d8231c" stroke-width="1.8"/>
<line x1="245.4" y1="765.3" x2="245.4" y2="777.2" stroke="#d8231c" stroke-width="1.6"/>
<line x1="281.3" y1="761.8" x2="281.3" y2="777.2" stroke="#d8231c" stroke-width="1.6"/>
<line x1="350.8" y1="762.7" x2="350.8" y2="777.2" stroke="#1c3fbe" stroke-width="1.5"/>
<line x1="379.0" y1="755.7" x2="379.0" y2="777.2" stroke="#1c3fbe" stroke-width="1.5"/>
<line x1="425.2" y1="770.6" x2="425.2" y2="777.2" stroke="#1c3fbe" stroke-width="1.5"/>
<line x1="55" y1="774.1" x2="672" y2="774.1" stroke="#555" stroke-width="0.9" stroke-dasharray="1.3 1.7"/>
<text x="669.4" y="772.5" font-size="8" fill="#7a7a7a" text-anchor="end" textLength="89" lengthAdjust="spacing">Minimum Value (1.00%)</text>
<line x1="55" y1="476.3" x2="673" y2="476.3" stroke="#111" stroke-width="1.5"/>
<line x1="672" y1="476.3" x2="672" y2="778.2" stroke="#111" stroke-width="2"/>
<line x1="55" y1="475.6" x2="55" y2="778.2" stroke="#111" stroke-width="1.6"/>
<line x1="50" y1="777.2" x2="673" y2="777.2" stroke="#111" stroke-width="2"/>
<line x1="50" y1="777.2" x2="55" y2="777.2" stroke="#111" stroke-width="1.4"/>
<text class="ax" x="48" y="783.4" text-anchor="end">0%</text>
<line x1="52.4" y1="762.2" x2="55" y2="762.2" stroke="#111" stroke-width="1.2"/>
<line x1="52.4" y1="747.1" x2="55" y2="747.1" stroke="#111" stroke-width="1.2"/>
<line x1="52.4" y1="732.1" x2="55" y2="732.1" stroke="#111" stroke-width="1.2"/>
<line x1="52.4" y1="717.0" x2="55" y2="717.0" stroke="#111" stroke-width="1.2"/>
<line x1="50" y1="702.0" x2="55" y2="702.0" stroke="#111" stroke-width="1.4"/>
<text class="ax" x="48" y="708.2" text-anchor="end">25%</text>
<line x1="52.4" y1="686.9" x2="55" y2="686.9" stroke="#111" stroke-width="1.2"/>
<line x1="52.4" y1="671.9" x2="55" y2="671.9" stroke="#111" stroke-width="1.2"/>
<line x1="52.4" y1="656.8" x2="55" y2="656.8" stroke="#111" stroke-width="1.2"/>
<line x1="52.4" y1="641.8" x2="55" y2="641.8" stroke="#111" stroke-width="1.2"/>
<line x1="50" y1="626.8" x2="55" y2="626.8" stroke="#111" stroke-width="1.4"/>
<text class="ax" x="48" y="633.0" text-anchor="end">50%</text>
<line x1="52.4" y1="611.7" x2="55" y2="611.7" stroke="#111" stroke-width="1.2"/>
<line x1="52.4" y1="596.7" x2="55" y2="596.7" stroke="#111" stroke-width="1.2"/>
<line x1="52.4" y1="581.6" x2="55" y2="581.6" stroke="#111" stroke-width="1.2"/>
<line x1="52.4" y1="566.6" x2="55" y2="566.6" stroke="#111" stroke-width="1.2"/>
<line x1="50" y1="551.5" x2="55" y2="551.5" stroke="#111" stroke-width="1.4"/>
<text class="ax" x="48" y="557.7" text-anchor="end">75%</text>
<line x1="52.4" y1="536.5" x2="55" y2="536.5" stroke="#111" stroke-width="1.2"/>
<line x1="52.4" y1="521.4" x2="55" y2="521.4" stroke="#111" stroke-width="1.2"/>
<line x1="52.4" y1="506.4" x2="55" y2="506.4" stroke="#111" stroke-width="1.2"/>
<line x1="52.4" y1="491.3" x2="55" y2="491.3" stroke="#111" stroke-width="1.2"/>
<line x1="50" y1="476.3" x2="55" y2="476.3" stroke="#111" stroke-width="1.4"/>
<text class="ax" x="48" y="482.5" text-anchor="end">100%</text>
<line x1="55.1" y1="777.2" x2="55.1" y2="783.2" stroke="#111" stroke-width="1.5"/>
<text class="ax" x="55.1" y="800.4" text-anchor="middle">0</text>
<line x1="79.8" y1="777.2" x2="79.8" y2="780.6" stroke="#111" stroke-width="1.2"/>
<line x1="104.4" y1="777.2" x2="104.4" y2="780.6" stroke="#111" stroke-width="1.2"/>
<line x1="129.1" y1="777.2" x2="129.1" y2="780.6" stroke="#111" stroke-width="1.2"/>
<line x1="153.7" y1="777.2" x2="153.7" y2="780.6" stroke="#111" stroke-width="1.2"/>
<line x1="178.3" y1="777.2" x2="178.3" y2="783.2" stroke="#111" stroke-width="1.5"/>
<text class="ax" x="178.3" y="800.4" text-anchor="middle">500</text>
<line x1="203.0" y1="777.2" x2="203.0" y2="780.6" stroke="#111" stroke-width="1.2"/>
<line x1="227.7" y1="777.2" x2="227.7" y2="780.6" stroke="#111" stroke-width="1.2"/>
<line x1="252.3" y1="777.2" x2="252.3" y2="780.6" stroke="#111" stroke-width="1.2"/>
<line x1="276.9" y1="777.2" x2="276.9" y2="780.6" stroke="#111" stroke-width="1.2"/>
<line x1="301.6" y1="777.2" x2="301.6" y2="783.2" stroke="#111" stroke-width="1.5"/>
<text class="ax" x="301.6" y="800.4" text-anchor="middle">1000</text>
<line x1="326.2" y1="777.2" x2="326.2" y2="780.6" stroke="#111" stroke-width="1.2"/>
<line x1="350.9" y1="777.2" x2="350.9" y2="780.6" stroke="#111" stroke-width="1.2"/>
<line x1="375.6" y1="777.2" x2="375.6" y2="780.6" stroke="#111" stroke-width="1.2"/>
<line x1="400.2" y1="777.2" x2="400.2" y2="780.6" stroke="#111" stroke-width="1.2"/>
<line x1="424.9" y1="777.2" x2="424.9" y2="783.2" stroke="#111" stroke-width="1.5"/>
<text class="ax" x="424.9" y="800.4" text-anchor="middle">1500</text>
<line x1="449.5" y1="777.2" x2="449.5" y2="780.6" stroke="#111" stroke-width="1.2"/>
<line x1="474.2" y1="777.2" x2="474.2" y2="780.6" stroke="#111" stroke-width="1.2"/>
<line x1="498.8" y1="777.2" x2="498.8" y2="780.6" stroke="#111" stroke-width="1.2"/>
<line x1="523.4" y1="777.2" x2="523.4" y2="780.6" stroke="#111" stroke-width="1.2"/>
<line x1="548.1" y1="777.2" x2="548.1" y2="783.2" stroke="#111" stroke-width="1.5"/>
<text class="ax" x="548.1" y="800.4" text-anchor="middle">2000</text>
<line x1="572.8" y1="777.2" x2="572.8" y2="780.6" stroke="#111" stroke-width="1.2"/>
<line x1="597.4" y1="777.2" x2="597.4" y2="780.6" stroke="#111" stroke-width="1.2"/>
<line x1="622.1" y1="777.2" x2="622.1" y2="780.6" stroke="#111" stroke-width="1.2"/>
<line x1="646.7" y1="777.2" x2="646.7" y2="780.6" stroke="#111" stroke-width="1.2"/>
<line x1="671.4" y1="777.2" x2="671.4" y2="783.2" stroke="#111" stroke-width="1.5"/>
<text class="ax" x="670.3" y="800.4" text-anchor="middle">2500</text>
<text class="ax" x="363.7" y="820.0" text-anchor="middle">m/z</text>
<text class="ax" transform="translate(10.5,626.8) rotate(-90)" text-anchor="middle" textLength="98.8" lengthAdjust="spacingAndGlyphs">Relative Intensity</text>
<text x="669.4" y="485.9" font-size="8.6" fill="#111" text-anchor="end" textLength="222" lengthAdjust="spacingAndGlyphs" style="white-space:pre">835.10 m/z, 3+, 2,502.28 Da,  (Parent Error: 2.0 ppm)</text>
<text x="350.4" y="454.7" class="ttl" fill="#111" text-anchor="middle">VIME</text>
<text x="31.5" y="437.6" class="ltr" fill="#111">b</text>
<line x1="55.0" y1="507.5" x2="64.2" y2="507.5" stroke="#1a1a1a" stroke-width="1.15"/>
<line x1="74.0" y1="507.5" x2="83.2" y2="507.5" stroke="#1a1a1a" stroke-width="1.15"/>
<text x="64.9" y="510.6" font-size="8.7" fill="#1a1a1a" stroke="#1a1a1a" stroke-width=".15">L</text>
<line x1="83.2" y1="507.5" x2="92.3" y2="507.5" stroke="#1a1a1a" stroke-width="1.15"/>
<line x1="102.1" y1="507.5" x2="111.1" y2="507.5" stroke="#1a1a1a" stroke-width="1.15"/>
<text x="93.0" y="510.6" font-size="8.7" fill="#1a1a1a" stroke="#1a1a1a" stroke-width=".15">L</text>
<line x1="111.1" y1="507.5" x2="120.6" y2="507.5" stroke="#1a1a1a" stroke-width="1.15"/>
<line x1="133.2" y1="507.5" x2="142.7" y2="507.5" stroke="#1a1a1a" stroke-width="1.15"/>
<text x="121.3" y="510.6" font-size="8.7" fill="#1a1a1a" stroke="#1a1a1a" stroke-width=".15">Q</text>
<line x1="141.1" y1="507.5" x2="151.0" y2="507.5" stroke="#d8231c" stroke-width="1.9"/>
<line x1="162.6" y1="507.5" x2="171.0" y2="507.5" stroke="#d8231c" stroke-width="1.9"/>
<text x="151.5" y="511.9" font-size="12.2" fill="#d8231c" stroke="#d8231c" stroke-width=".6">D</text>
<line x1="171.0" y1="507.5" x2="176.4" y2="507.5" stroke="#d8231c" stroke-width="1.9"/>
<line x1="187.1" y1="507.5" x2="192.5" y2="507.5" stroke="#d8231c" stroke-width="1.9"/>
<text x="176.9" y="511.9" font-size="12.2" fill="#d8231c" stroke="#d8231c" stroke-width=".6">S</text>
<line x1="192.5" y1="507.5" x2="199.3" y2="507.5" stroke="#d8231c" stroke-width="1.9"/>
<line x1="210.1" y1="507.5" x2="216.9" y2="507.5" stroke="#d8231c" stroke-width="1.9"/>
<text x="199.8" y="511.9" font-size="12.2" fill="#d8231c" stroke="#d8231c" stroke-width=".6">V</text>
<line x1="216.9" y1="507.5" x2="225.3" y2="507.5" stroke="#d8231c" stroke-width="1.9"/>
<line x1="236.9" y1="507.5" x2="245.2" y2="507.5" stroke="#d8231c" stroke-width="1.9"/>
<text x="225.8" y="511.9" font-size="12.2" fill="#d8231c" stroke="#d8231c" stroke-width=".6">D</text>
<line x1="245.2" y1="507.5" x2="258.4" y2="507.5" stroke="#d8231c" stroke-width="1.9"/>
<line x1="268.3" y1="507.5" x2="283.1" y2="507.5" stroke="#d8231c" stroke-width="1.9"/>
<text x="258.9" y="511.9" font-size="12.2" fill="#d8231c" stroke="#d8231c" stroke-width=".6">F</text>
<line x1="281.5" y1="507.5" x2="286.6" y2="507.5" stroke="#1a1a1a" stroke-width="1.15"/>
<line x1="297.8" y1="507.5" x2="303.0" y2="507.5" stroke="#1a1a1a" stroke-width="1.15"/>
<text x="287.3" y="510.6" font-size="8.7" fill="#1a1a1a" stroke="#1a1a1a" stroke-width=".15">S</text>
<line x1="303.0" y1="507.5" x2="312.0" y2="507.5" stroke="#1a1a1a" stroke-width="1.15"/>
<line x1="321.8" y1="507.5" x2="330.8" y2="507.5" stroke="#1a1a1a" stroke-width="1.15"/>
<text x="312.7" y="510.6" font-size="8.7" fill="#1a1a1a" stroke="#1a1a1a" stroke-width=".15">L</text>
<line x1="330.8" y1="507.5" x2="334.0" y2="507.5" stroke="#1a1a1a" stroke-width="1.15"/>
<line x1="345.2" y1="507.5" x2="348.3" y2="507.5" stroke="#1a1a1a" stroke-width="1.15"/>
<text x="334.7" y="510.6" font-size="8.7" fill="#1a1a1a" stroke="#1a1a1a" stroke-width=".15">A</text>
<line x1="348.3" y1="507.5" x2="356.6" y2="507.5" stroke="#1a1a1a" stroke-width="1.15"/>
<line x1="368.5" y1="507.5" x2="376.7" y2="507.5" stroke="#1a1a1a" stroke-width="1.15"/>
<text x="357.3" y="510.6" font-size="8.7" fill="#1a1a1a" stroke="#1a1a1a" stroke-width=".15">D</text>
<line x1="376.7" y1="507.5" x2="379.8" y2="507.5" stroke="#1a1a1a" stroke-width="1.15"/>
<line x1="391.1" y1="507.5" x2="394.2" y2="507.5" stroke="#1a1a1a" stroke-width="1.15"/>
<text x="380.5" y="510.6" font-size="8.7" fill="#1a1a1a" stroke="#1a1a1a" stroke-width=".15">A</text>
<line x1="394.2" y1="507.5" x2="405.0" y2="507.5" stroke="#1a1a1a" stroke-width="1.15"/>
<line x1="411.3" y1="507.5" x2="422.1" y2="507.5" stroke="#1a1a1a" stroke-width="1.15"/>
<text x="405.7" y="510.6" font-size="8.7" fill="#1a1a1a" stroke="#1a1a1a" stroke-width=".15">I</text>
<line x1="422.1" y1="507.5" x2="430.2" y2="507.5" stroke="#1a1a1a" stroke-width="1.15"/>
<line x1="442.1" y1="507.5" x2="450.2" y2="507.5" stroke="#1a1a1a" stroke-width="1.15"/>
<text x="430.9" y="510.6" font-size="8.7" fill="#1a1a1a" stroke="#1a1a1a" stroke-width=".15">N</text>
<line x1="450.2" y1="507.5" x2="457.4" y2="507.5" stroke="#1a1a1a" stroke-width="1.15"/>
<line x1="467.9" y1="507.5" x2="475.1" y2="507.5" stroke="#1a1a1a" stroke-width="1.15"/>
<text x="458.1" y="510.6" font-size="8.7" fill="#1a1a1a" stroke="#1a1a1a" stroke-width=".15">T</text>
<line x1="475.1" y1="507.5" x2="485.4" y2="507.5" stroke="#1a1a1a" stroke-width="1.15"/>
<line x1="496.6" y1="507.5" x2="506.9" y2="507.5" stroke="#1a1a1a" stroke-width="1.15"/>
<text x="486.1" y="510.6" font-size="8.7" fill="#1a1a1a" stroke="#1a1a1a" stroke-width=".15">E</text>
<line x1="506.9" y1="507.5" x2="519.8" y2="507.5" stroke="#1a1a1a" stroke-width="1.15"/>
<line x1="530.3" y1="507.5" x2="543.2" y2="507.5" stroke="#1a1a1a" stroke-width="1.15"/>
<text x="520.5" y="510.6" font-size="8.7" fill="#1a1a1a" stroke="#1a1a1a" stroke-width=".15">F</text>
<line x1="543.2" y1="507.5" x2="546.9" y2="507.5" stroke="#1a1a1a" stroke-width="1.15"/>
<line x1="572.5" y1="507.5" x2="576.2" y2="507.5" stroke="#1a1a1a" stroke-width="1.15"/>
<text x="547.6" y="510.6" font-size="8.7" fill="#1a1a1a" stroke="#1a1a1a" stroke-width=".15" textLength="16.4">K+6</text>
<line x1="576.2" y1="507.5" x2="584.3" y2="507.5" stroke="#1a1a1a" stroke-width="1.15"/>
<line x1="596.2" y1="507.5" x2="604.3" y2="507.5" stroke="#1a1a1a" stroke-width="1.15"/>
<text x="585.0" y="510.6" font-size="8.7" fill="#1a1a1a" stroke="#1a1a1a" stroke-width=".15">N</text>
<line x1="604.3" y1="507.5" x2="611.5" y2="507.5" stroke="#1a1a1a" stroke-width="1.15"/>
<line x1="622.0" y1="507.5" x2="629.2" y2="507.5" stroke="#1a1a1a" stroke-width="1.15"/>
<text x="612.2" y="510.6" font-size="8.7" fill="#1a1a1a" stroke="#1a1a1a" stroke-width=".15">T</text>
<line x1="629.2" y1="507.5" x2="644.7" y2="507.5" stroke="#1a1a1a" stroke-width="1.15"/>
<line x1="656.6" y1="507.5" x2="672.0" y2="507.5" stroke="#1a1a1a" stroke-width="1.15"/>
<text x="645.4" y="510.6" font-size="8.7" fill="#1a1a1a" stroke="#1a1a1a" stroke-width=".15">R</text>
<line x1="83.2" y1="503.2" x2="83.2" y2="511.8" stroke="#1a1a1a" stroke-width="1.15"/>
<line x1="111.1" y1="503.2" x2="111.1" y2="511.8" stroke="#1a1a1a" stroke-width="1.15"/>
<line x1="142.7" y1="502.5" x2="142.7" y2="512.5" stroke="#d8231c" stroke-width="1.9"/>
<line x1="171.0" y1="502.5" x2="171.0" y2="512.5" stroke="#d8231c" stroke-width="1.9"/>
<line x1="192.5" y1="502.5" x2="192.5" y2="512.5" stroke="#d8231c" stroke-width="1.9"/>
<line x1="216.9" y1="502.5" x2="216.9" y2="512.5" stroke="#d8231c" stroke-width="1.9"/>
<line x1="245.2" y1="502.5" x2="245.2" y2="512.5" stroke="#d8231c" stroke-width="1.9"/>
<line x1="281.5" y1="502.5" x2="281.5" y2="512.5" stroke="#d8231c" stroke-width="1.9"/>
<line x1="303.0" y1="503.2" x2="303.0" y2="511.8" stroke="#1a1a1a" stroke-width="1.15"/>
<line x1="330.8" y1="503.2" x2="330.8" y2="511.8" stroke="#1a1a1a" stroke-width="1.15"/>
<line x1="348.3" y1="503.2" x2="348.3" y2="511.8" stroke="#1a1a1a" stroke-width="1.15"/>
<line x1="376.7" y1="503.2" x2="376.7" y2="511.8" stroke="#1a1a1a" stroke-width="1.15"/>
<line x1="394.2" y1="503.2" x2="394.2" y2="511.8" stroke="#1a1a1a" stroke-width="1.15"/>
<line x1="422.1" y1="503.2" x2="422.1" y2="511.8" stroke="#1a1a1a" stroke-width="1.15"/>
<line x1="450.2" y1="503.2" x2="450.2" y2="511.8" stroke="#1a1a1a" stroke-width="1.15"/>
<line x1="475.1" y1="503.2" x2="475.1" y2="511.8" stroke="#1a1a1a" stroke-width="1.15"/>
<line x1="506.9" y1="503.2" x2="506.9" y2="511.8" stroke="#1a1a1a" stroke-width="1.15"/>
<line x1="543.2" y1="503.2" x2="543.2" y2="511.8" stroke="#1a1a1a" stroke-width="1.15"/>
<line x1="576.2" y1="503.2" x2="576.2" y2="511.8" stroke="#1a1a1a" stroke-width="1.15"/>
<line x1="604.3" y1="503.2" x2="604.3" y2="511.8" stroke="#1a1a1a" stroke-width="1.15"/>
<line x1="629.2" y1="503.2" x2="629.2" y2="511.8" stroke="#1a1a1a" stroke-width="1.15"/>
<line x1="55.0" y1="520.9" x2="70.7" y2="520.9" stroke="#1a1a1a" stroke-width="1.15"/>
<line x1="82.6" y1="520.9" x2="98.3" y2="520.9" stroke="#1a1a1a" stroke-width="1.15"/>
<text x="71.4" y="524.0" font-size="8.7" fill="#1a1a1a" stroke="#1a1a1a" stroke-width=".15">R</text>
<line x1="98.3" y1="520.9" x2="105.5" y2="520.9" stroke="#1a1a1a" stroke-width="1.15"/>
<line x1="116.0" y1="520.9" x2="123.2" y2="520.9" stroke="#1a1a1a" stroke-width="1.15"/>
<text x="106.2" y="524.0" font-size="8.7" fill="#1a1a1a" stroke="#1a1a1a" stroke-width=".15">T</text>
<line x1="123.2" y1="520.9" x2="131.3" y2="520.9" stroke="#1a1a1a" stroke-width="1.15"/>
<line x1="143.2" y1="520.9" x2="151.3" y2="520.9" stroke="#1a1a1a" stroke-width="1.15"/>
<text x="132.0" y="524.0" font-size="8.7" fill="#1a1a1a" stroke="#1a1a1a" stroke-width=".15">N</text>
<line x1="151.3" y1="520.9" x2="155.0" y2="520.9" stroke="#1a1a1a" stroke-width="1.15"/>
<line x1="180.6" y1="520.9" x2="184.3" y2="520.9" stroke="#1a1a1a" stroke-width="1.15"/>
<text x="155.7" y="524.0" font-size="8.7" fill="#1a1a1a" stroke="#1a1a1a" stroke-width=".15" textLength="16.4">K+6</text>
<line x1="184.3" y1="520.9" x2="197.2" y2="520.9" stroke="#1a1a1a" stroke-width="1.15"/>
<line x1="207.7" y1="520.9" x2="220.6" y2="520.9" stroke="#1a1a1a" stroke-width="1.15"/>
<text x="197.9" y="524.0" font-size="8.7" fill="#1a1a1a" stroke="#1a1a1a" stroke-width=".15">F</text>
<line x1="220.6" y1="520.9" x2="230.9" y2="520.9" stroke="#1a1a1a" stroke-width="1.15"/>
<line x1="242.1" y1="520.9" x2="252.4" y2="520.9" stroke="#1a1a1a" stroke-width="1.15"/>
<text x="231.6" y="524.0" font-size="8.7" fill="#1a1a1a" stroke="#1a1a1a" stroke-width=".15">E</text>
<line x1="252.4" y1="520.9" x2="259.6" y2="520.9" stroke="#1a1a1a" stroke-width="1.15"/>
<line x1="270.1" y1="520.9" x2="277.3" y2="520.9" stroke="#1a1a1a" stroke-width="1.15"/>
<text x="260.3" y="524.0" font-size="8.7" fill="#1a1a1a" stroke="#1a1a1a" stroke-width=".15">T</text>
<line x1="277.3" y1="520.9" x2="285.4" y2="520.9" stroke="#1a1a1a" stroke-width="1.15"/>
<line x1="297.3" y1="520.9" x2="305.4" y2="520.9" stroke="#1a1a1a" stroke-width="1.15"/>
<text x="286.1" y="524.0" font-size="8.7" fill="#1a1a1a" stroke="#1a1a1a" stroke-width=".15">N</text>
<line x1="305.4" y1="520.9" x2="316.2" y2="520.9" stroke="#1a1a1a" stroke-width="1.15"/>
<line x1="322.5" y1="520.9" x2="333.3" y2="520.9" stroke="#1a1a1a" stroke-width="1.15"/>
<text x="316.9" y="524.0" font-size="8.7" fill="#1a1a1a" stroke="#1a1a1a" stroke-width=".15">I</text>
<line x1="333.3" y1="520.9" x2="336.5" y2="520.9" stroke="#1a1a1a" stroke-width="1.15"/>
<line x1="347.7" y1="520.9" x2="350.8" y2="520.9" stroke="#1a1a1a" stroke-width="1.15"/>
<text x="337.2" y="524.0" font-size="8.7" fill="#1a1a1a" stroke="#1a1a1a" stroke-width=".15">A</text>
<line x1="349.2" y1="520.9" x2="359.2" y2="520.9" stroke="#1c3fbe" stroke-width="1.9"/>
<line x1="370.8" y1="520.9" x2="380.8" y2="520.9" stroke="#1c3fbe" stroke-width="1.9"/>
<text x="359.7" y="525.3" font-size="12.2" fill="#1c3fbe" stroke="#1c3fbe" stroke-width=".6">D</text>
<line x1="379.2" y1="520.9" x2="382.3" y2="520.9" stroke="#1a1a1a" stroke-width="1.15"/>
<line x1="393.5" y1="520.9" x2="396.7" y2="520.9" stroke="#1a1a1a" stroke-width="1.15"/>
<text x="383.0" y="524.0" font-size="8.7" fill="#1a1a1a" stroke="#1a1a1a" stroke-width=".15">A</text>
<line x1="396.7" y1="520.9" x2="405.7" y2="520.9" stroke="#1a1a1a" stroke-width="1.15"/>
<line x1="415.5" y1="520.9" x2="424.6" y2="520.9" stroke="#1a1a1a" stroke-width="1.15"/>
<text x="406.4" y="524.0" font-size="8.7" fill="#1a1a1a" stroke="#1a1a1a" stroke-width=".15">L</text>
<line x1="424.6" y1="520.9" x2="429.7" y2="520.9" stroke="#1a1a1a" stroke-width="1.15"/>
<line x1="440.9" y1="520.9" x2="446.0" y2="520.9" stroke="#1a1a1a" stroke-width="1.15"/>
<text x="430.4" y="524.0" font-size="8.7" fill="#1a1a1a" stroke="#1a1a1a" stroke-width=".15">S</text>
<line x1="446.0" y1="520.9" x2="458.9" y2="520.9" stroke="#1a1a1a" stroke-width="1.15"/>
<line x1="469.4" y1="520.9" x2="482.3" y2="520.9" stroke="#1a1a1a" stroke-width="1.15"/>
<text x="459.6" y="524.0" font-size="8.7" fill="#1a1a1a" stroke="#1a1a1a" stroke-width=".15">F</text>
<line x1="482.3" y1="520.9" x2="490.5" y2="520.9" stroke="#1a1a1a" stroke-width="1.15"/>
<line x1="502.4" y1="520.9" x2="510.6" y2="520.9" stroke="#1a1a1a" stroke-width="1.15"/>
<text x="491.2" y="524.0" font-size="8.7" fill="#1a1a1a" stroke="#1a1a1a" stroke-width=".15">D</text>
<line x1="510.6" y1="520.9" x2="517.2" y2="520.9" stroke="#1a1a1a" stroke-width="1.15"/>
<line x1="528.4" y1="520.9" x2="535.0" y2="520.9" stroke="#1a1a1a" stroke-width="1.15"/>
<text x="517.9" y="524.0" font-size="8.7" fill="#1a1a1a" stroke="#1a1a1a" stroke-width=".15">V</text>
<line x1="535.0" y1="520.9" x2="540.2" y2="520.9" stroke="#1a1a1a" stroke-width="1.15"/>
<line x1="551.4" y1="520.9" x2="556.5" y2="520.9" stroke="#1a1a1a" stroke-width="1.15"/>
<text x="540.9" y="524.0" font-size="8.7" fill="#1a1a1a" stroke="#1a1a1a" stroke-width=".15">S</text>
<line x1="556.5" y1="520.9" x2="564.7" y2="520.9" stroke="#1a1a1a" stroke-width="1.15"/>
<line x1="576.6" y1="520.9" x2="584.8" y2="520.9" stroke="#1a1a1a" stroke-width="1.15"/>
<text x="565.4" y="524.0" font-size="8.7" fill="#1a1a1a" stroke="#1a1a1a" stroke-width=".15">D</text>
<line x1="584.8" y1="520.9" x2="594.3" y2="520.9" stroke="#1a1a1a" stroke-width="1.15"/>
<line x1="606.9" y1="520.9" x2="616.4" y2="520.9" stroke="#1a1a1a" stroke-width="1.15"/>
<text x="595.0" y="524.0" font-size="8.7" fill="#1a1a1a" stroke="#1a1a1a" stroke-width=".15">Q</text>
<line x1="616.4" y1="520.9" x2="625.4" y2="520.9" stroke="#1a1a1a" stroke-width="1.15"/>
<line x1="635.3" y1="520.9" x2="644.3" y2="520.9" stroke="#1a1a1a" stroke-width="1.15"/>
<text x="626.1" y="524.0" font-size="8.7" fill="#1a1a1a" stroke="#1a1a1a" stroke-width=".15">L</text>
<line x1="644.3" y1="520.9" x2="653.2" y2="520.9" stroke="#1a1a1a" stroke-width="1.15"/>
<line x1="663.0" y1="520.9" x2="672.0" y2="520.9" stroke="#1a1a1a" stroke-width="1.15"/>
<text x="653.9" y="524.0" font-size="8.7" fill="#1a1a1a" stroke="#1a1a1a" stroke-width=".15">L</text>
<line x1="98.3" y1="516.6" x2="98.3" y2="525.1999999999999" stroke="#1a1a1a" stroke-width="1.15"/>
<line x1="123.2" y1="516.6" x2="123.2" y2="525.1999999999999" stroke="#1a1a1a" stroke-width="1.15"/>
<line x1="151.3" y1="516.6" x2="151.3" y2="525.1999999999999" stroke="#1a1a1a" stroke-width="1.15"/>
<line x1="184.3" y1="516.6" x2="184.3" y2="525.1999999999999" stroke="#1a1a1a" stroke-width="1.15"/>
<line x1="220.6" y1="516.6" x2="220.6" y2="525.1999999999999" stroke="#1a1a1a" stroke-width="1.15"/>
<line x1="252.4" y1="516.6" x2="252.4" y2="525.1999999999999" stroke="#1a1a1a" stroke-width="1.15"/>
<line x1="277.3" y1="516.6" x2="277.3" y2="525.1999999999999" stroke="#1a1a1a" stroke-width="1.15"/>
<line x1="305.4" y1="516.6" x2="305.4" y2="525.1999999999999" stroke="#1a1a1a" stroke-width="1.15"/>
<line x1="333.3" y1="516.6" x2="333.3" y2="525.1999999999999" stroke="#1a1a1a" stroke-width="1.15"/>
<line x1="350.8" y1="515.9" x2="350.8" y2="525.9" stroke="#1c3fbe" stroke-width="1.9"/>
<line x1="379.2" y1="515.9" x2="379.2" y2="525.9" stroke="#1c3fbe" stroke-width="1.9"/>
<line x1="396.7" y1="516.6" x2="396.7" y2="525.1999999999999" stroke="#1a1a1a" stroke-width="1.15"/>
<line x1="424.6" y1="516.6" x2="424.6" y2="525.1999999999999" stroke="#1a1a1a" stroke-width="1.15"/>
<line x1="446.0" y1="516.6" x2="446.0" y2="525.1999999999999" stroke="#1a1a1a" stroke-width="1.15"/>
<line x1="482.3" y1="516.6" x2="482.3" y2="525.1999999999999" stroke="#1a1a1a" stroke-width="1.15"/>
<line x1="510.6" y1="516.6" x2="510.6" y2="525.1999999999999" stroke="#1a1a1a" stroke-width="1.15"/>
<line x1="535.0" y1="516.6" x2="535.0" y2="525.1999999999999" stroke="#1a1a1a" stroke-width="1.15"/>
<line x1="556.5" y1="516.6" x2="556.5" y2="525.1999999999999" stroke="#1a1a1a" stroke-width="1.15"/>
<line x1="584.8" y1="516.6" x2="584.8" y2="525.1999999999999" stroke="#1a1a1a" stroke-width="1.15"/>
<line x1="616.4" y1="516.6" x2="616.4" y2="525.1999999999999" stroke="#1a1a1a" stroke-width="1.15"/>
<line x1="644.3" y1="516.6" x2="644.3" y2="525.1999999999999" stroke="#1a1a1a" stroke-width="1.15"/>
<text class="sm" x="319.5" y="474.8" fill="#2f62d8" text-anchor="middle">y19+2H</text>
<text class="sm" x="240.5" y="565.0" fill="#2c9020" text-anchor="middle">b7-H2O</text>
<text class="sm" x="334.6" y="583.9" fill="#2f62d8" text-anchor="middle">y20+2H</text>
<text class="sm" x="333.3" y="603.3" fill="#2c9020" text-anchor="middle">y20-H2O+2H</text>
<text class="sm" x="282.4" y="621.1" fill="#2f62d8" text-anchor="middle">y16+2H</text>
<text class="sm" x="305.5" y="665.2" fill="#2f62d8" text-anchor="middle">y18+2H</text>
<text class="sm" x="304.7" y="689.1" fill="#2f62d8" text-anchor="middle">y18+2H+1</text>
<text class="sm" x="335.4" y="688.2" fill="#2f62d8" text-anchor="middle">y20+2H+1</text>
<text class="sm" x="319.2" y="694.4" fill="#2f62d8" text-anchor="middle">y19+2H+1</text>
<text class="sm" x="249.5" y="702.0" fill="#2f62d8" text-anchor="middle">y14+2H</text>
<text class="bg" x="143.1" y="764.0" fill="#d8231c" stroke="#d8231c" text-anchor="middle">b3</text>
<text class="bg" x="171.5" y="755.5" fill="#d8231c" stroke="#d8231c" text-anchor="middle">b4</text>
<text class="bg" x="192.5" y="761.7" fill="#d8231c" stroke="#d8231c" text-anchor="middle">b5</text>
<text class="bg" x="217.2" y="764.0" fill="#d8231c" stroke="#d8231c" text-anchor="middle">b6</text>
<text class="bg" x="245.0" y="764.2" fill="#d8231c" stroke="#d8231c" text-anchor="middle">b7</text>
<text class="bg" x="281.5" y="760.8" fill="#d8231c" stroke="#d8231c" text-anchor="middle">b8</text>
<text class="bg" x="305.4" y="771.0" fill="#1c3fbe" stroke="#1c3fbe" text-anchor="middle">y8</text>
<text class="bg" x="350.2" y="761.7" fill="#1c3fbe" stroke="#1c3fbe" text-anchor="middle">y10</text>
<text class="bg" x="378.4" y="754.6" fill="#1c3fbe" stroke="#1c3fbe" text-anchor="middle">y11</text>
<text class="bg" x="424.6" y="769.2" fill="#1c3fbe" stroke="#1c3fbe" text-anchor="middle">y13</text>
</g>
</svg>
</body></html>
